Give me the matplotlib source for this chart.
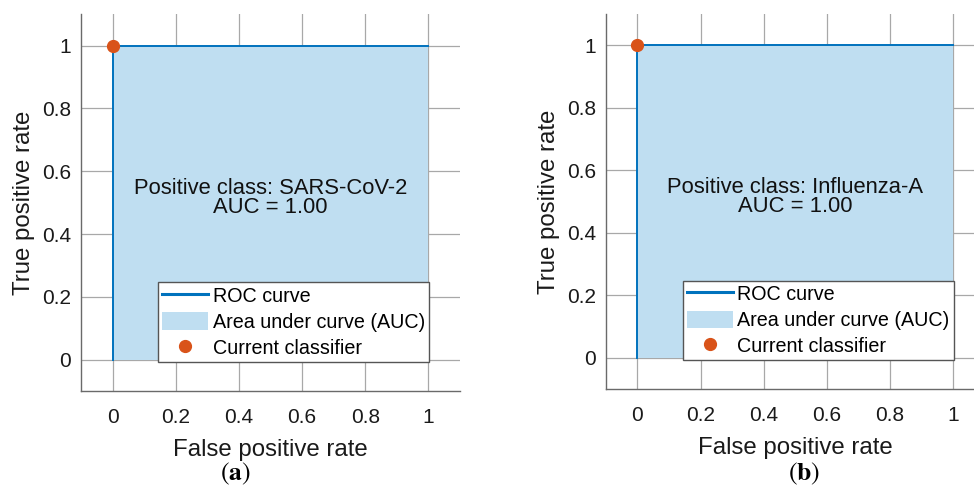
#!/usr/bin/env python3

import numpy as np
import matplotlib
matplotlib.use('Agg')
import matplotlib.pyplot as plt

# ROC data for the two panels
roc_fpr = [0.0, 0.0, 1.0]
roc_tpr = [0.0, 1.0, 1.0]
classifier_point = (0.0, 1.0)
panel_classes = ['SARS-CoV-2', 'Influenza-A']
panel_auc = [1.00, 1.00]
panel_tags = ['a', 'b']
ticks = [0, 0.2, 0.4, 0.6, 0.8, 1]
tick_labels = ['0', '0.2', '0.4', '0.6', '0.8', '1']

LINE_C = '#0072BD'
FILL_C = '#BFDEF1'
DOT_C = '#D95319'

plt.rcParams['font.family'] = ['Liberation Sans', 'DejaVu Sans']
plt.rcParams['mathtext.fontset'] = 'stix'


def draw_panel(ax, cls, auc):
    x = np.asarray(roc_fpr)
    y = np.asarray(roc_tpr)
    ax.fill_between(x, 0, y, color=FILL_C, lw=0, zorder=2,
                    label='Area under curve (AUC)')
    ax.plot(x, y, color=LINE_C, lw=1.4, zorder=3, label='ROC curve')
    ax.plot([classifier_point[0]], [classifier_point[1]], 'o', color=DOT_C,
            ms=8.5, zorder=5, clip_on=False, label='Current classifier')

    ax.set_xlim(-0.1, 1.1)
    ax.set_ylim(-0.1, 1.1)
    ax.set_xticks(ticks)
    ax.set_xticklabels(tick_labels)
    ax.set_yticks(ticks)
    ax.set_yticklabels(tick_labels)
    ax.tick_params(length=0, labelsize=15, colors='#1a1a1a')
    ax.tick_params(axis='x', pad=12)
    ax.tick_params(axis='y', pad=7)
    ax.grid(True, color='#a8a8a8', lw=0.9, zorder=0)
    ax.set_axisbelow(True)
    for s in ['top', 'right']:
        ax.spines[s].set_visible(False)
    for s in ['left', 'bottom']:
        ax.spines[s].set_color('#6a6a6a')
        ax.spines[s].set_linewidth(1.0)

    ax.set_xlabel('False positive rate', fontsize=17.3, color='#1a1a1a', labelpad=9)
    ax.set_ylabel('True positive rate', fontsize=17.3, color='#1a1a1a', labelpad=5)

    ax.text(0.5, 0.515, 'Positive class: %s\nAUC = %.2f' % (cls, auc),
            ha='center', va='center', fontsize=15.8, linespacing=0.9,
            color='#111111', zorder=4)

    handles, labels = ax.get_legend_handles_labels()
    order = [1, 0, 2]
    leg = ax.legend([handles[i] for i in order], [labels[i] for i in order],
                    loc='lower right', bbox_to_anchor=(0.918, 0.077),
                    fontsize=14.2, frameon=True, fancybox=False, framealpha=1,
                    borderpad=0.2, labelspacing=0.33, handlelength=2.3,
                    handleheight=1.0, handletextpad=0.25, borderaxespad=0)
    leg.get_frame().set_edgecolor('#555555')
    leg.get_frame().set_linewidth(1.0)
    leg.get_lines()[0].set_linewidth(2.2)
    leg.set_zorder(6)


def main():
    fig = plt.figure(figsize=(9.74, 4.90), dpi=100)
    ax_a = fig.add_axes([0.0832, 0.202, 0.389, 0.769])
    ax_b = fig.add_axes([0.622, 0.206, 0.389, 0.765])

    draw_panel(ax_a, panel_classes[0], panel_auc[0])
    draw_panel(ax_b, panel_classes[1], panel_auc[1])

    fig.text(0.2415, 0.006, r'$(\mathbf{%s})$' % panel_tags[0], ha='center',
             va='bottom', fontsize=18.5)
    fig.text(0.8255, 0.006, r'$(\mathbf{%s})$' % panel_tags[1], ha='center',
             va='bottom', fontsize=18.5)

    fig.savefig('out.png', dpi=100)


if __name__ == '__main__':
    main()
